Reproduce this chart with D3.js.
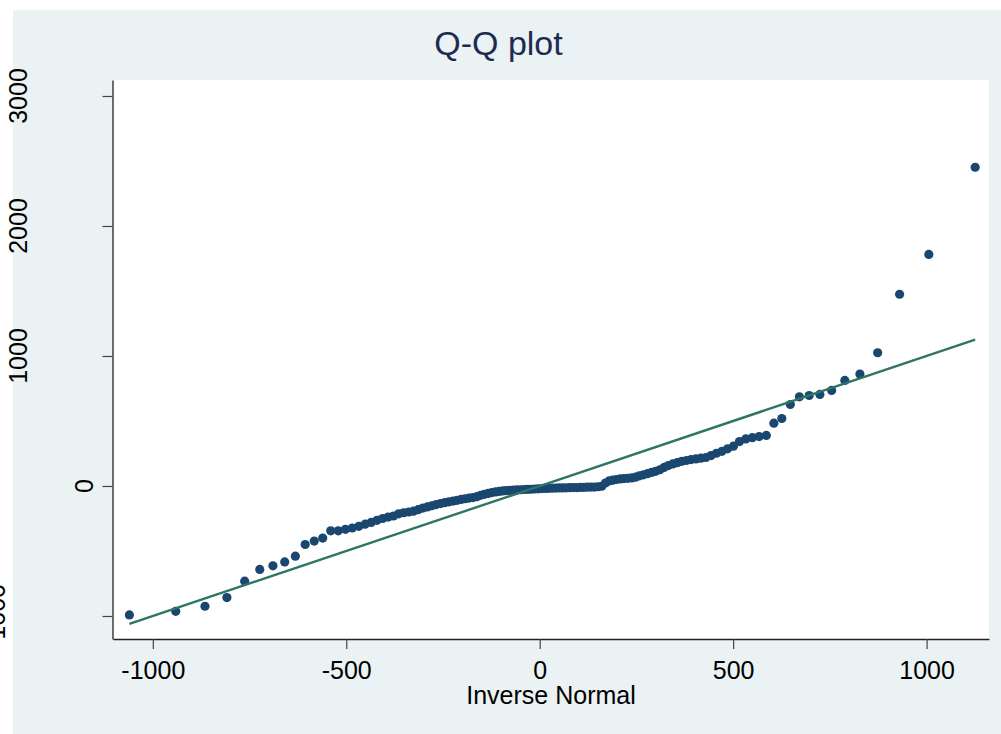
<!DOCTYPE html>
<html>
<head>
<meta charset="utf-8">
<script src="https://cdn.jsdelivr.net/npm/d3@7"></script>
<style>
  html, body { margin: 0; padding: 0; background: #ffffff; overflow: hidden; }
  svg { display: block; }
  text { font-family: "Liberation Sans", Arial, sans-serif; }
</style>
</head>
<body>
<svg id="chart" width="1001" height="734"></svg>
<script>
// Observed values, sorted ascending (n = 125)
const observed = [
  -992, -964, -925, -858, -732, -642, -614, -584, -540, -450,
  -424, -401, -345, -345, -333, -323, -310, -294, -280, -264,
  -250, -239, -231, -214, -206, -200, -194, -182, -170, -161,
  -152, -143, -135, -128, -122, -116, -110, -103,  -98,  -93,
   -89,  -82,  -72,  -64,  -57,  -51,  -46,  -42,  -38,  -36,
   -34,  -32,  -30,  -29,  -27,  -26,  -25,  -23,  -22,  -20,
   -19,  -18,  -17,  -16,  -15,  -15,  -14,  -13,  -12,  -12,
   -11,  -10,   -9,   -8,   -8,   -6,   -2,   23,   39,   45,
    50,   54,   57,   59,   62,   68,   78,   86,   95,  104,
   113,  125,  143,  157,  170,  179,  190,  196,  203,  208,
   214,  219,  234,  252,  267,  286,  306,  342,  362,  372,
   380,  389,  483,  519,  627,  686,  696,  704,  735,  812,
   861, 1025, 1475, 1781, 2452
];

const xTickValues = [-1000, -500, 0, 500, 1000];
const yTickValues = [-1000, 0, 1000, 2000, 3000];

const titleText = "Q-Q plot";
const xTitleText = "Inverse Normal";

// Inverse of the standard normal CDF (Acklam's rational approximation)
function invNorm(p) {
  const a = [-3.969683028665376e+01, 2.209460984245205e+02, -2.759285104469687e+02,
              1.383577518672690e+02, -3.066479806614716e+01, 2.506628277459239e+00];
  const b = [-5.447609879822406e+01, 1.615858368580409e+02, -1.556989798598866e+02,
              6.680131188771972e+01, -1.328068155288572e+01];
  const c = [-7.784894002430293e-03, -3.223964580411365e-01, -2.400758277161838e+00,
             -2.549671180840145e+00, 4.374664141464968e+00, 2.938163982698783e+00];
  const d = [7.784695709041462e-03, 3.224671290700398e-01, 2.445134137142996e+00,
             3.754408661907416e+00];
  const pLow = 0.02425;
  if (p < pLow) {
    const q = Math.sqrt(-2 * Math.log(p));
    return (((((c[0]*q + c[1])*q + c[2])*q + c[3])*q + c[4])*q + c[5]) /
           ((((d[0]*q + d[1])*q + d[2])*q + d[3])*q + 1);
  }
  if (p <= 1 - pLow) {
    const q = p - 0.5, r = q * q;
    return (((((a[0]*r + a[1])*r + a[2])*r + a[3])*r + a[4])*r + a[5]) * q /
           (((((b[0]*r + b[1])*r + b[2])*r + b[3])*r + b[4])*r + 1);
  }
  const q = Math.sqrt(-2 * Math.log(1 - p));
  return -(((((c[0]*q + c[1])*q + c[2])*q + c[3])*q + c[4])*q + c[5]) /
          ((((d[0]*q + d[1])*q + d[2])*q + d[3])*q + 1);
}

// Quantile pairs: normal quantiles with the sample mean and sd vs. sorted data
const sorted = observed.slice().sort(d3.ascending);
const n = sorted.length;
const mu = d3.mean(sorted);
const sd = d3.deviation(sorted);
const points = sorted.map((v, i) => ({ q: mu + sd * invNorm((i + 1) / (n + 1)), v }));

const W = 1001, H = 734;
const plot = { left: 113, right: 989, top: 80, bottom: 639 };

const svg = d3.select("#chart");

// Graph region and plot region backgrounds
svg.append("rect")
  .attr("x", 13).attr("y", 10)
  .attr("width", W - 13).attr("height", H - 10)
  .attr("fill", "#eaf2f3");
svg.append("rect")
  .attr("x", plot.left).attr("y", plot.top)
  .attr("width", plot.right - plot.left).attr("height", plot.bottom - plot.top)
  .attr("fill", "#ffffff");

const x = d3.scaleLinear().domain([-1102.9, 1161.3]).range([plot.left, plot.right]);
const y = d3.scaleLinear().domain([-1177, 3123]).range([plot.bottom, plot.top]);

// Points
svg.append("g")
  .selectAll("circle")
  .data(points)
  .join("circle")
  .attr("cx", d => x(d.q))
  .attr("cy", d => y(d.v))
  .attr("r", 4.6)
  .attr("fill", "#1a476f");

// Reference line y = x over the range of normal quantiles
const qExtent = d3.extent(points, d => d.q);
svg.append("path")
  .datum(qExtent)
  .attr("d", d3.line().x(d => x(d)).y(d => y(d)))
  .attr("fill", "none")
  .attr("stroke", "#2e7664")
  .attr("stroke-width", 2.4);

// X axis
const xAxis = svg.append("g")
  .attr("transform", `translate(0,${plot.bottom})`)
  .call(d3.axisBottom(x).tickValues(xTickValues).tickSize(10).tickSizeOuter(0)
        .tickPadding(12).tickFormat(d => String(d)));
xAxis.select(".domain").attr("stroke", "#222").attr("stroke-width", 1.3);
xAxis.selectAll(".tick line").attr("stroke", "#444").attr("stroke-width", 1.2);
xAxis.selectAll(".tick text")
  .attr("fill", "#000")
  .style("font-size", "25px")
  .style("font-family", "'Liberation Sans', Arial, sans-serif");

// Y axis (vertical labels)
const yAxis = svg.append("g")
  .attr("transform", `translate(${plot.left - 0.5},0)`)
  .call(d3.axisLeft(y).tickValues(yTickValues).tickSize(10).tickSizeOuter(0).tickFormat(""));
yAxis.select(".domain").attr("stroke", "#222").attr("stroke-width", 1.3);
yAxis.selectAll(".tick line").attr("stroke", "#444").attr("stroke-width", 1.2);

svg.append("g")
  .selectAll("text")
  .data(yTickValues)
  .join("text")
  .attr("transform", d => {
    const s = String(d);
    return `translate(${93 - 22 * (s.length - 1)},${y(d)}) rotate(-90)`;
  })
  .attr("text-anchor", "middle")
  .attr("fill", "#000")
  .style("font-size", "25px")
  .text(d => String(d));

// Titles
svg.append("text")
  .attr("x", 498.5).attr("y", 55)
  .attr("text-anchor", "middle")
  .attr("fill", "#1e2b50")
  .style("font-size", "34px")
  .text(titleText);

svg.append("text")
  .attr("x", (plot.left + plot.right) / 2).attr("y", 704)
  .attr("text-anchor", "middle")
  .attr("fill", "#000")
  .style("font-size", "25px")
  .text(xTitleText);
</script>
</body>
</html>
